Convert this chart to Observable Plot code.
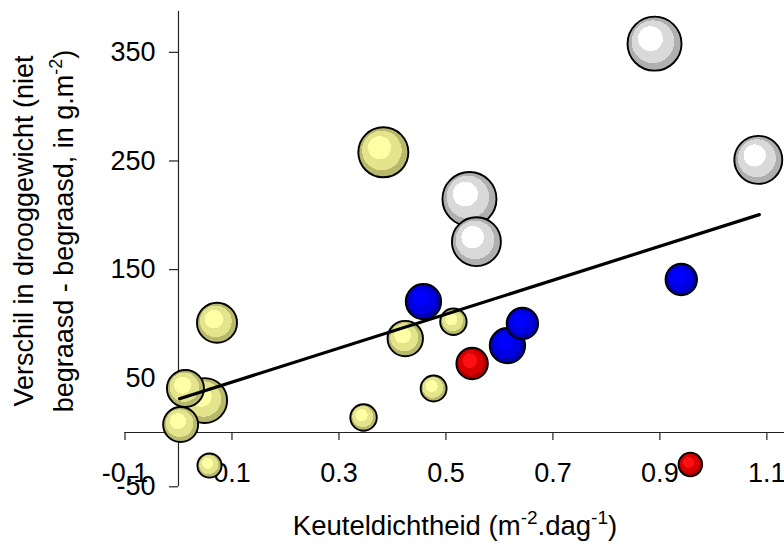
<!DOCTYPE html>
<html>
<head>
<meta charset="utf-8">
<script src="https://cdn.jsdelivr.net/npm/d3@7"></script>
<script src="https://cdn.jsdelivr.net/npm/@observablehq/plot@0.6"></script>
<style>
  html, body { margin: 0; padding: 0; background: #fff; }
</style>
</head>
<body>
<div id="chart"></div>
<script>
// ---------- data ----------
const xTicks = [-0.1, 0.1, 0.3, 0.5, 0.7, 0.9, 1.1];
const xTickLabels = ["-0.1", "0.1", "0.3", "0.5", "0.7", "0.9", "1.1"];
const yTicks = [-50, 50, 150, 250, 350];
const yTickLabels = ["-50", "50", "150", "250", "350"];

// yellow (khaki) bubbles
const yellowX    = [0.383, 0.072, 0.346, 0.424, 0.514, 0.477, 0.058, 0.004, 0.013, 0.049];
const yellowY    = [258,   101,   13.8,  86.5,  102,   40.5,  -30.4, 7.4,   40.5,  29.4];
const yellowSize = [86,    55,    24,    43,    24,    23,    20,    42,    47,    69];

// grey / white bubbles
const greyX    = [0.544, 0.557, 0.890, 1.084];
const greyY    = [215,   175.7, 358,   251];
const greySize = [100,   82,    100,   79];

// blue bubbles
const blueX    = [0.458, 0.615, 0.643, 0.940];
const blueY    = [120.5, 80,    100.3, 140.8];
const blueSize = [43,    43,    34,    34];

// red bubbles
const redX    = [0.549, 0.957];
const redY    = [63.5,  -29.4];
const redSize = [34,    19];

// regression line end points
const trendX = [0.002, 1.086];
const trendY = [31, 200.6];

// ---------- helpers ----------
const FONT = "'Liberation Sans', Arial, Helvetica, sans-serif";
const zip = (xs, ys, ss) => xs.map((x, i) => ({x, y: ys[i], s: ss ? ss[i] : undefined}));

const W = 784, H = 552;
const mL = 124.5, mR = 0, mT = 11, mB = 65.7;
const xDom = [-0.1, 1.133];
const yDom = [-50, 387.6];
const pxX = (W - mL - mR) / (xDom[1] - xDom[0]);
const pxY = (H - mT - mB) / (yDom[1] - yDom[0]);

const gradients = {
  gY: ["#ffffa6", "#e4e48c", "#b9b96e"],
  gG: ["#ffffff", "#d9d9d9", "#afafaf"],
  gB: ["#0000ff", "#0000e4", "#0000b2"],
  gR: ["#ff1010", "#d80000", "#ae0000"]
};

function defsMark() {
  const g = d3.create("svg:g");
  const defs = g.append("defs");
  for (const [id, [c0, c1, c2]] of Object.entries(gradients)) {
    const rg = defs.append("radialGradient").attr("id", id)
      .attr("cx", 0.5).attr("cy", 0.5).attr("r", 0.5).attr("fx", 0.36).attr("fy", 0.33);
    [[0, c0], [0.46, c0], [0.46, c1], [0.79, c1], [0.79, c2], [1, c2]].forEach(([o, c]) =>
      rg.append("stop").attr("offset", o).attr("stop-color", c));
  }
  return g.node();
}

function titlesMark() {
  const g = d3.create("svg:g").attr("font-family", FONT).attr("font-size", 27).attr("fill", "black");
  const xt = g.append("text").attr("x", 455).attr("y", 535).attr("text-anchor", "middle")
    .attr("font-size", 27.5);
  xt.append("tspan").text("Keuteldichtheid (m");
  xt.append("tspan").attr("dy", -11).attr("font-size", 19).text("-2");
  xt.append("tspan").attr("dy", 11).text(".dag");
  xt.append("tspan").attr("dy", -11).attr("font-size", 19).text("-1");
  xt.append("tspan").attr("dy", 11).text(")");

  g.append("text").attr("transform", "translate(33,231) rotate(-90)")
    .attr("text-anchor", "middle").text("Verschil in drooggewicht (niet");
  const y2 = g.append("text").attr("transform", "translate(73,231) rotate(-90)")
    .attr("text-anchor", "middle");
  y2.append("tspan").text("begraasd - begraasd, in g.m");
  y2.append("tspan").attr("dy", -11).attr("font-size", 18).text("-2");
  y2.append("tspan").attr("dy", 11).text(")");
  return g.node();
}

const dotOpts = (fill) => ({x: "x", y: "y", r: "s", fill, stroke: "black", strokeWidth: 1.9});

const chart = Plot.plot({
  width: W,
  height: H,
  marginLeft: mL, marginRight: mR, marginTop: mT, marginBottom: mB,
  style: {fontFamily: FONT, background: "#fff"},
  x: {domain: xDom, axis: null},
  y: {domain: yDom, axis: null},
  r: {type: "sqrt", domain: [0, 100], range: [0, 27]},
  marks: [
    defsMark,
    // axes lines
    Plot.ruleY([0], {x1: xDom[0], x2: xDom[1], stroke: "#222", strokeWidth: 1.2}),
    Plot.ruleX([0], {y1: yDom[0], y2: yDom[1], stroke: "#222", strokeWidth: 1.2}),
    // tick marks
    Plot.ruleX(xTicks, {x: d => d, y1: 0, y2: -8 / pxY, stroke: "#222", strokeWidth: 1.2}),
    Plot.ruleY(yTicks, {y: d => d, x1: 0, x2: -9 / pxX, stroke: "#222", strokeWidth: 1.2}),
    // tick labels
    Plot.text(xTicks, {x: d => d, y: 0, text: (d, i) => xTickLabels[i], dy: 50,
      lineAnchor: "bottom", textAnchor: "middle", fontSize: 27, fill: "black"}),
    Plot.text(yTicks, {x: 0, y: d => d, text: (d, i) => yTickLabels[i], dx: -23,
      lineAnchor: "middle", textAnchor: "end", fontSize: 27, fill: "black"}),
    // bubbles
    Plot.dot(zip(yellowX, yellowY, yellowSize), dotOpts("url(#gY)")),
    Plot.dot(zip(greyX, greyY, greySize), dotOpts("url(#gG)")),
    Plot.dot(zip(blueX, blueY, blueSize), dotOpts("url(#gB)")),
    Plot.dot(zip(redX, redY, redSize), dotOpts("url(#gR)")),
    // regression line
    Plot.line(zip(trendX, trendY), {x: "x", y: "y", stroke: "black", strokeWidth: 3.2}),
    titlesMark
  ]
});

document.getElementById("chart").appendChild(chart);
</script>
</body>
</html>
